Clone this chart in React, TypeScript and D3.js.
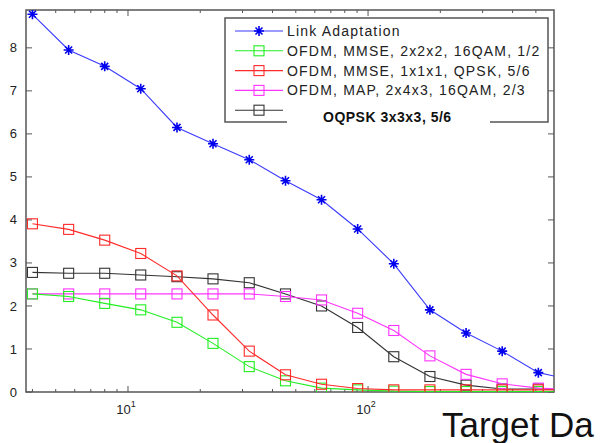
import * as d3 from 'd3';
import React, { useEffect, useRef } from 'react';

// x positions are powers of sqrt(2) starting at 4
const xValues = [4, 5.66, 8, 11.3, 16, 22.6, 32, 45.3, 64, 90.5, 128, 181, 256, 362, 512, 724];

const linkAdaptation = [8.78, 7.95, 7.57, 7.05, 6.15, 5.77, 5.40, 4.91, 4.47, 3.79, 2.98, 1.91, 1.37, 0.95, 0.45, 0.27];
const ofdmMmse2x2 = [2.28, 2.22, 2.06, 1.91, 1.62, 1.13, 0.59, 0.26, 0.09, 0.05, 0.02, 0.01, 0.01, 0.01, 0.01, 0.0];
const ofdmMmse1x1 = [3.91, 3.78, 3.53, 3.22, 2.70, 1.79, 0.95, 0.40, 0.18, 0.08, 0.05, 0.05, 0.05, 0.05, 0.05, 0.05];
const ofdmMap2x4 = [2.28, 2.28, 2.28, 2.28, 2.28, 2.28, 2.28, 2.22, 2.14, 1.83, 1.43, 0.84, 0.41, 0.19, 0.09, 0.06];
const oqpsk3x3 = [2.78, 2.76, 2.76, 2.72, 2.68, 2.63, 2.54, 2.28, 2.0, 1.50, 0.82, 0.36, 0.16, 0.07, 0.07, 0.06];

const seriesNames = [
    "Link Adaptation",
    "OFDM, MMSE, 2x2x2, 16QAM, 1/2",
    "OFDM, MMSE, 1x1x1, QPSK, 5/6",
    "OFDM, MAP, 2x4x3, 16QAM, 2/3",
    "",
];
const seriesColors = ["#3b3bff", "#22ee22", "#ff2a2a", "#ff33ff", "#333333"];
const seriesMarkers = ["star", "square", "square", "square", "square"];
const yTicks = [0, 1, 2, 3, 4, 5, 6, 7, 8];
const xMajorTicks = [10, 100];
const xMinorTicks = [4, 5, 6, 7, 8, 9, 20, 30, 40, 50, 60, 70, 80, 90, 200, 300, 400, 500];
const overlayLabel = "OQPSK 3x3x3, 5/6";
const bottomLabel = "Target Da";

const W = 610;
const H = 443;
const margin = { top: 10, right: 56, bottom: 51, left: 26 };

const App = () => {
    const ref = useRef(null);

    useEffect(() => {
        const root = d3.select(ref.current);
        root.selectAll("*").remove();
        const svg = root.append("svg")
            .attr("width", W)
            .attr("height", H)
            .style("display", "block")
            .style("font-family", "Arial, 'Liberation Sans', sans-serif");

        svg.append("rect").attr("width", W).attr("height", H).attr("fill", "white");

        const x = d3.scaleLog().domain([3.76, 595]).range([margin.left, W - margin.right]);
        const y = d3.scaleLinear().domain([0, 8.88]).range([H - margin.bottom, margin.top]);
        const [x0, x1] = x.range();
        const [y0, y1] = y.range();

        svg.append("clipPath").attr("id", "plotclip")
            .append("rect").attr("x", x0).attr("y", y1).attr("width", x1 - x0).attr("height", y0 - y1);

        const axisColor = "#555";
        const ax = svg.append("g");
        ax.append("rect")
            .attr("x", x0).attr("y", y1).attr("width", x1 - x0).attr("height", y0 - y1)
            .attr("fill", "none").attr("stroke", axisColor).attr("stroke-width", 1.5);

        // y ticks on both sides
        yTicks.forEach(t => {
            const yy = y(t);
            ax.append("line").attr("x1", x0).attr("x2", x0 + 6).attr("y1", yy).attr("y2", yy).attr("stroke", axisColor);
            ax.append("line").attr("x1", x1).attr("x2", x1 - 6).attr("y1", yy).attr("y2", yy).attr("stroke", axisColor);
            ax.append("text").attr("x", x0 - 9).attr("y", yy).attr("dy", "0.35em")
                .attr("text-anchor", "end").attr("font-size", 13).attr("fill", "#222").text(t);
        });

        // x ticks top and bottom
        xMinorTicks.forEach(t => {
            const xx = x(t);
            ax.append("line").attr("x1", xx).attr("x2", xx).attr("y1", y0).attr("y2", y0 - 3).attr("stroke", axisColor);
            ax.append("line").attr("x1", xx).attr("x2", xx).attr("y1", y1).attr("y2", y1 + 3).attr("stroke", axisColor);
        });
        xMajorTicks.forEach(t => {
            const xx = x(t);
            ax.append("line").attr("x1", xx).attr("x2", xx).attr("y1", y0).attr("y2", y0 - 6).attr("stroke", axisColor);
            ax.append("line").attr("x1", xx).attr("x2", xx).attr("y1", y1).attr("y2", y1 + 6).attr("stroke", axisColor);
            const lbl = ax.append("text").attr("x", xx - 2).attr("y", y0 + 22)
                .attr("text-anchor", "middle").attr("font-size", 13).attr("fill", "#222");
            lbl.append("tspan").text("10");
            lbl.append("tspan").attr("dy", -7).attr("font-size", 9).text(Math.round(Math.log10(t)));
        });

        const allSeries = [linkAdaptation, ofdmMmse2x2, ofdmMmse1x1, ofdmMap2x4, oqpsk3x3];
        const plot = svg.append("g").attr("clip-path", "url(#plotclip)");
        const line = d3.line<number>().x((d, i) => x(xValues[i])).y(d => y(d));

        const drawMarker = (g, kind, cx, cy, color) => {
            if (kind === "star") {
                const r = 5;
                const p = `M${cx - r},${cy}L${cx + r},${cy}M${cx},${cy - r}L${cx},${cy + r}` +
                    `M${cx - r * 0.7},${cy - r * 0.7}L${cx + r * 0.7},${cy + r * 0.7}` +
                    `M${cx - r * 0.7},${cy + r * 0.7}L${cx + r * 0.7},${cy - r * 0.7}`;
                g.append("path").attr("d", p).attr("stroke", "#0000ee").attr("stroke-width", 1.6).attr("fill", "none");
            } else {
                g.append("rect").attr("x", cx - 5).attr("y", cy - 5).attr("width", 10).attr("height", 10)
                    .attr("fill", "none").attr("stroke", color).attr("stroke-width", 1.1);
            }
        };

        // draw back to front so blue sits on top
        [4, 3, 1, 2, 0].forEach(si => {
            const vals = allSeries[si];
            plot.append("path").datum(vals)
                .attr("d", line)
                .attr("fill", "none")
                .attr("stroke", seriesColors[si])
                .attr("stroke-width", 1.1);
            vals.forEach((v, i) => drawMarker(plot, seriesMarkers[si], x(xValues[i]), y(v), seriesColors[si]));
        });

        // legend
        const lg = svg.append("g");
        const lx0 = 225, ly0 = 18, lx1 = 548, ly1 = 122;
        lg.append("rect").attr("x", lx0).attr("y", ly0).attr("width", lx1 - lx0).attr("height", ly1 - ly0)
            .attr("fill", "white").attr("stroke", axisColor).attr("stroke-width", 1.5);
        seriesNames.forEach((name, i) => {
            const cy = 31 + i * 19.8;
            lg.append("line").attr("x1", 235).attr("x2", 283).attr("y1", cy).attr("y2", cy)
                .attr("stroke", seriesColors[i]).attr("stroke-width", 1.1);
            drawMarker(lg, seriesMarkers[i], 259, cy, seriesColors[i]);
            lg.append("text").attr("x", 287).attr("y", cy).attr("dy", "0.35em")
                .attr("font-size", 14).attr("letter-spacing", 1.2).attr("fill", "#222")
                .text(name);
        });

        // pasted-over label
        svg.append("rect").attr("x", 287).attr("y", 102).attr("width", 203).attr("height", 28).attr("fill", "white");
        svg.append("text").attr("x", 323).attr("y", 117).attr("dy", "0.35em")
            .attr("font-size", 14).attr("letter-spacing", 0.5).attr("font-weight", "bold").attr("fill", "#111").text(overlayLabel);

        svg.append("text").attr("x", 442).attr("y", 437)
            .attr("font-size", 35).attr("fill", "#111").text(bottomLabel);
    }, []);

    return <div ref={ref} style={{ position: "absolute", left: 0, top: 0 }} />;
};

export default App;
